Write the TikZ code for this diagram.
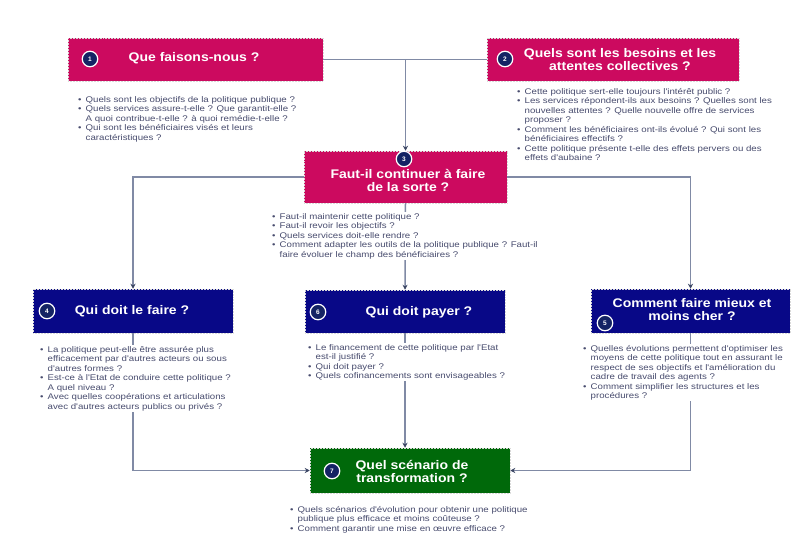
\documentclass[tikz,border=0pt]{standalone}
\usepackage{fontspec}
\setmainfont{Liberation Sans}
\newfontfamily\bodyfont[FakeStretch=1.18]{Liberation Sans}
\newfontfamily\titlefont[FakeStretch=1.12]{Liberation Sans}
\usetikzlibrary{arrows.meta,calc}
\definecolor{pinkc}{RGB}{204,10,95}
\definecolor{navyc}{RGB}{8,8,135}
\definecolor{greenc}{RGB}{0,105,10}
\definecolor{linec}{RGB}{128,138,165}
\definecolor{tipc}{RGB}{60,70,100}
\definecolor{txtc}{RGB}{72,76,110}
\definecolor{circc}{RGB}{20,35,100}
\newcommand\bl{\makebox[7.5pt][l]{•}}
\newcommand\hi{\hspace*{7.5pt}}
\begin{document}
\begin{tikzpicture}[x=1pt,y=-1pt,
  box/.style={draw=black!15, densely dotted, line width=0.5pt, inner sep=0pt, anchor=center},
  pinkbox/.style={box, fill=pinkc},
  navybox/.style={box, fill=navyc},
  greenbox/.style={box, fill=greenc},
  ttl/.style={text=white, font=\titlefont\bfseries\fontsize{12.5}{13}\selectfont, align=center, inner sep=0pt},
  num/.style={circle, fill=circc, draw=white, line width=1.2pt, minimum size=15.5pt, inner sep=0pt, text=white, font=\bfseries\fontsize{6.5}{6.5}\selectfont},
  body/.style={anchor=north west, align=left, inner sep=1pt, fill=white, text=txtc, font=\bodyfont\fontsize{8.2}{9.5}\selectfont},
  conn/.style={draw=linec, line width=1.5pt},
  arr/.style={conn, -{Stealth[length=5pt,width=5pt,color=tipc]}}
]
\useasboundingbox[fill=white] (0,0) rectangle (797,545);

% boxes
\node[pinkbox, minimum width=255pt, minimum height=43pt] (b1) at (195.5,59.5) {};
\node[pinkbox, minimum width=252pt, minimum height=43pt] (b2) at (613,59.5) {};
\node[pinkbox, minimum width=203pt, minimum height=52pt] (b3) at (405.5,177) {};
\node[navybox, minimum width=200pt, minimum height=44pt] (b4) at (133,311) {};
\node[navybox, minimum width=200pt, minimum height=43pt] (b6) at (405,311.5) {};
\node[navybox, minimum width=199pt, minimum height=44pt] (b5) at (690.5,311) {};
\node[greenbox, minimum width=200pt, minimum height=45pt] (b7) at (410,470.5) {};

% connectors
\draw[conn] (b1.east) -- (b2.west);
\draw[arr] (b1.east -| b3.north) -- (b3.north);
\draw[arr] (b3.west) -| (b4.north);
\draw[arr] (b3.east) -| (b5.north);
\draw[arr] (b3.south) -- (b6.north);
\draw[arr] (b4.south) |- (b7.west);
\draw[arr] (b5.south) |- (b7.east);
\draw[arr] (b6.south) -- (b6.south |- b7.north);

% titles
\node[ttl] (t1) at (194,58.5) {Que faisons-nous ?};
\node[ttl] (t2) at (620,59.5) {Quels sont les besoins et les\\attentes collectives ?};
\node[ttl] (t3) at (408,180) {Faut-il continuer à faire\\de la sorte ?};
\node[ttl] (t4) at (132,311) {Qui doit le faire ?};
\node[ttl] (t6) at (419,312) {Qui doit payer ?};
\node[ttl] (t5) at (692,310) {Comment faire mieux et\\moins cher ?};
\node[ttl] (t7) at (412,471) {Quel scénario de\\transformation ?};

% numbers
\node[num] (c1) at (90,59) {1};
\node[num] (c2) at (505,59) {2};
\node[num] (c3) at (404,159) {3};
\node[num] (c4) at (47,311) {4};
\node[num] (c6) at (318,312) {6};
\node[num] (c5) at (605,323) {5};
\node[num] (c7) at (332,471) {7};

% body texts
\node[body] (x1) at (77,95) {\bl Quels sont les objectifs de la politique publique ?\\
\bl Quels services assure-t-elle ? Que garantit-elle ?\\
\hi A quoi contribue-t-elle ? à quoi remédie-t-elle ?\\
\bl Qui sont les bénéficiaires visés et leurs\\
\hi caractéristiques ?};
\node[body] (x2) at (516,87) {\bl Cette politique sert-elle toujours l'intérêt public ?\\
\bl Les services répondent-ils aux besoins ? Quelles sont les\\
\hi nouvelles attentes ? Quelle nouvelle offre de services\\
\hi proposer ?\\
\bl Comment les bénéficiaires ont-ils évolué ? Qui sont les\\
\hi bénéficiaires effectifs ?\\
\bl Cette politique présente t-elle des effets pervers ou des\\
\hi effets d'aubaine ?};
\node[body] (x3) at (271,212) {\bl Faut-il maintenir cette politique ?\\
\bl Faut-il revoir les objectifs ?\\
\bl Quels services doit-elle rendre ?\\
\bl Comment adapter les outils de la politique publique ? Faut-il\\
\hi faire évoluer le champ des bénéficiaires ?};
\node[body] (x4) at (39,345) {\bl La politique peut-elle être assurée plus\\
\hi efficacement par d'autres acteurs ou sous\\
\hi d'autres formes ?\\
\bl Est-ce à l'Etat de conduire cette politique ?\\
\hi A quel niveau ?\\
\bl Avec quelles coopérations et articulations\\
\hi avec d'autres acteurs publics ou privés ?};
\node[body] (x6) at (307,343) {\bl Le financement de cette politique par l'Etat\\
\hi est-il justifié ?\\
\bl Qui doit payer ?\\
\bl Quels cofinancements sont envisageables ?};
\node[body] (x5) at (582,344) {\bl Quelles évolutions permettent d'optimiser les\\
\hi moyens de cette politique tout en assurant le\\
\hi respect de ses objectifs et l'amélioration du\\
\hi cadre de travail des agents ?\\
\bl Comment simplifier les structures et les\\
\hi procédures ?};
\node[body] (x7) at (289,505) {\bl Quels scénarios d'évolution pour obtenir une politique\\
\hi publique plus efficace et moins coûteuse ?\\
\bl Comment garantir une mise en œuvre efficace ?};
\end{tikzpicture}
\end{document}
